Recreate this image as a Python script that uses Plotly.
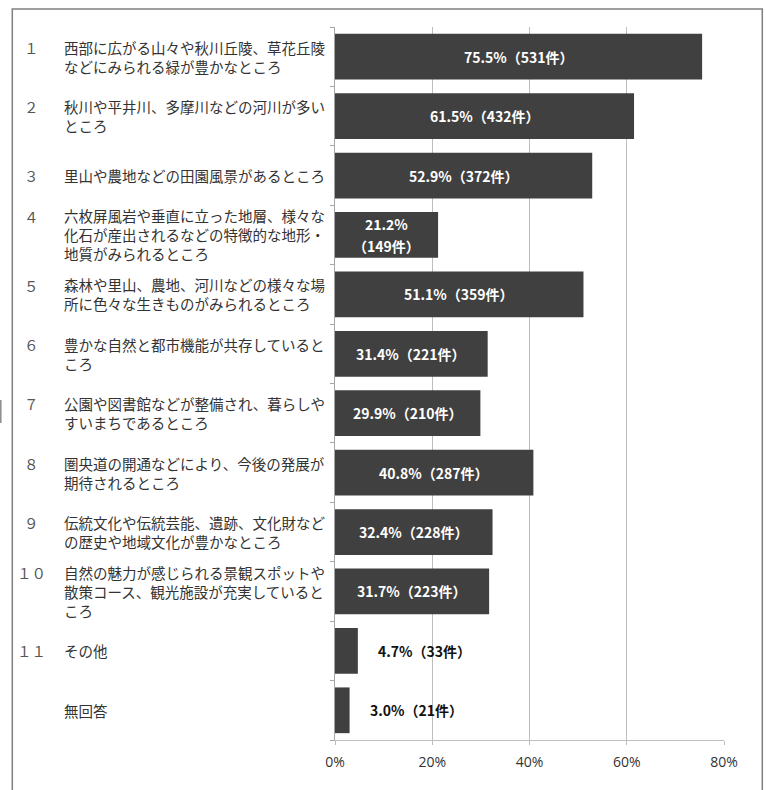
import plotly.graph_objects as go

# Survey: attractive features of the area (multiple answers), share of respondents
numbers = ["１", "２", "３", "４", "５", "６", "７", "８", "９", "１０", "１１", ""]
categories = [
    "西部に広がる山々や秋川丘陵、草花丘陵<br>などにみられる緑が豊かなところ",
    "秋川や平井川、多摩川などの河川が多い<br>ところ",
    "里山や農地などの田園風景があるところ",
    "六枚屏風岩や垂直に立った地層、様々な<br>化石が産出されるなどの特徴的な地形・<br>地質がみられるところ",
    "森林や里山、農地、河川などの様々な場<br>所に色々な生きものがみられるところ",
    "豊かな自然と都市機能が共存していると<br>ころ",
    "公園や図書館などが整備され、暮らしや<br>すいまちであるところ",
    "圏央道の開通などにより、今後の発展が<br>期待されるところ",
    "伝統文化や伝統芸能、遺跡、文化財など<br>の歴史や地域文化が豊かなところ",
    "自然の魅力が感じられる景観スポットや<br>散策コース、観光施設が充実していると<br>ころ",
    "その他",
    "無回答",
]
percent = [75.5, 61.5, 52.9, 21.2, 51.1, 31.4, 29.9, 40.8, 32.4, 31.7, 4.7, 3.0]
counts = [531, 432, 372, 149, 359, 221, 210, 287, 228, 223, 33, 21]
x_ticks = [0, 20, 40, 60, 80]

W, H = 766, 790
L, R, T, B = 335, 42, 27, 50
PW, PH = W - L - R, H - T - B


def px_x(px):
    return (px - L) / PW


def px_y(py):
    return (H - B - py) / PH


BAR = "#404040"
TEXT = "#333333"
LINE_H = 18.5
JP = "Noto Sans CJK JP"

pos = list(range(len(categories)))

fig = go.Figure(
    go.Bar(
        x=percent,
        y=pos,
        orientation="h",
        marker=dict(color=BAR, line=dict(width=0)),
        width=0.77,
        hoverinfo="skip",
    )
)

annotations = []
for i, (num, cat, p, c) in enumerate(zip(numbers, categories, percent, counts)):
    nlines = cat.count("<br>") + 1
    # category text, left aligned
    annotations.append(dict(
        x=px_x(62), xref="paper", y=i, yref="y",
        text=cat, showarrow=False, xanchor="left", yanchor="middle", align="left",
        font=dict(family=JP, size=14.5, color=TEXT),
    ))
    # item number aligned with the first text line
    if num:
        annotations.append(dict(
            x=px_x(31), xref="paper", y=i, yref="y",
            text=num, showarrow=False, xanchor="center", yanchor="middle",
            yshift=(nlines - 1) * LINE_H / 2,
            font=dict(family=JP, size=14.5, color="#555555"),
        ))
    # value label
    val_font = dict(family=JP, size=14, weight="bold")
    if p >= 10:
        if p > 25:
            lines = [f"{p:.1f}%（{c}件）"]
        else:
            # narrow bar: value and count on two lines
            lines = [f"{p:.1f}%", f"（{c}件）"]
        n = len(lines)
        for k, txt in enumerate(lines):
            annotations.append(dict(
                x=p / 2, xref="x", y=i, yref="y", text=txt, showarrow=False,
                xanchor="center", yanchor="middle",
                yshift=((n - 1) / 2 - k) * 22,
                font=dict(val_font, color="white"),
            ))
    else:
        annotations.append(dict(
            x=p, xref="x", y=i, yref="y", text=f"{p:.1f}%（{c}件）", showarrow=False,
            xanchor="left", yanchor="middle", xshift=18,
            font=dict(val_font, color="#111111"),
        ))

shapes = [
    # outer frame
    dict(type="rect", xref="paper", yref="paper",
         x0=px_x(12.3), x1=px_x(762.3), y0=px_y(800), y1=px_y(9),
         line=dict(color="#7f7f7f", width=1.5), fillcolor="rgba(0,0,0,0)", layer="below"),
    # small mark at the left edge
    dict(type="line", xref="paper", yref="paper",
         x0=px_x(0.8), x1=px_x(0.8), y0=px_y(400), y1=px_y(423),
         line=dict(color="#8a8a8a", width=1.5)),
]

fig.update_layout(
    width=W, height=H,
    margin=dict(l=L, r=R, t=T, b=B, pad=0),
    paper_bgcolor="white", plot_bgcolor="white",
    showlegend=False,
    bargap=0.23,
    annotations=annotations,
    shapes=shapes,
    xaxis=dict(
        range=[0, 80], tickvals=x_ticks, ticktext=[f"{v}%" for v in x_ticks],
        showgrid=True, gridcolor="#bdbdbd", gridwidth=1,
        showline=True, linecolor="#bdbdbd", linewidth=1,
        ticks="outside", ticklen=4, tickcolor="#bdbdbd",
        ticklabelstandoff=5,
        tickfont=dict(family="Open Sans", size=14, color="#333333"),
        zeroline=False, fixedrange=True,
    ),
    yaxis=dict(
        range=[len(categories) - 0.5, -0.5],
        tickvals=[k - 0.5 for k in range(len(categories) + 1)],
        ticktext=[""] * (len(categories) + 1),
        ticks="outside", ticklen=4, tickcolor="#a6a6a6",
        showgrid=False, zeroline=False,
        showline=True, linecolor="#a6a6a6", linewidth=1,
        fixedrange=True,
    ),
)

fig.write_html("out.html")
